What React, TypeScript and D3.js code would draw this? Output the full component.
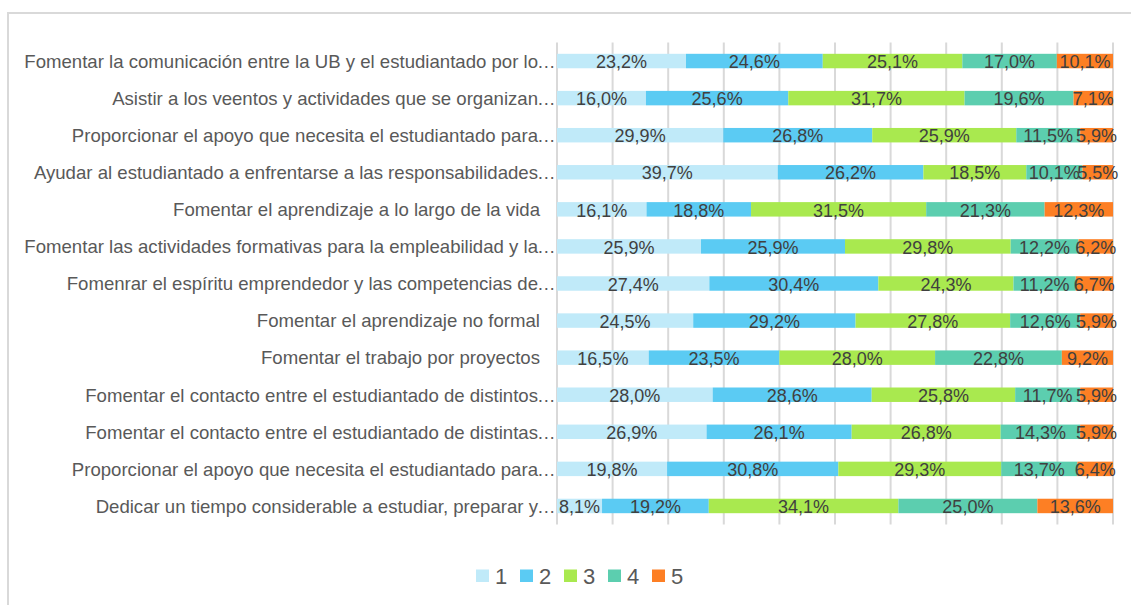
import React from "react";
import * as d3 from "d3";

const categories = [
  "Fomentar la comunicación entre la UB y el estudiantado por lo…",
  "Asistir a los veentos y actividades que se organizan…",
  "Proporcionar el apoyo que necesita el estudiantado para…",
  "Ayudar al estudiantado a enfrentarse a las responsabilidades…",
  "Fomentar el aprendizaje a lo largo de la vida ",
  "Fomentar las actividades formativas para la empleabilidad y la…",
  "Fomenrar el espíritu emprendedor y las competencias de…",
  "Fomentar el aprendizaje no formal ",
  "Fomentar el trabajo por proyectos ",
  "Fomentar el contacto entre el estudiantado de distintos…",
  "Fomentar el contacto entre el estudiantado de distintas…",
  "Proporcionar el apoyo que necesita el estudiantado para…",
  "Dedicar un tiempo considerable a estudiar, preparar y…",
];

const seriesNames = ["1", "2", "3", "4", "5"];

const s1 = [23.2, 16.0, 29.9, 39.7, 16.1, 25.9, 27.4, 24.5, 16.5, 28.0, 26.9, 19.8, 8.1];
const s2 = [24.6, 25.6, 26.8, 26.2, 18.8, 25.9, 30.4, 29.2, 23.5, 28.6, 26.1, 30.8, 19.2];
const s3 = [25.1, 31.7, 25.9, 18.5, 31.5, 29.8, 24.3, 27.8, 28.0, 25.8, 26.8, 29.3, 34.1];
const s4 = [17.0, 19.6, 11.5, 10.1, 21.3, 12.2, 11.2, 12.6, 22.8, 11.7, 14.3, 13.7, 25.0];
const s5 = [10.1, 7.1, 5.9, 5.5, 12.3, 6.2, 6.7, 5.9, 9.2, 5.9, 5.9, 6.4, 13.6];

const xTicks = [0, 10, 20, 30, 40, 50, 60, 70, 80, 90, 100];

const colors = ["#C0EAF9", "#5BCBF3", "#A9E94F", "#5CCEAF", "#FD7F24"];

const FONT = "'Liberation Sans', Arial, sans-serif";

export default function App() {
  const W = 1131;
  const H = 605;
  const x = d3.scaleLinear().domain([0, 100]).range([557, 1113]);
  const y = d3
    .scaleBand<string>()
    .domain(categories.map((_, i) => String(i)))
    .range([42.5, 524.5])
    .paddingInner(0.61)
    .paddingOuter(0.305);

  const table = categories.map((c, i) => ({
    cat: c,
    idx: i,
    v: [s1[i], s2[i], s3[i], s4[i], s5[i]],
  }));
  const stack = d3
    .stack<any>()
    .keys(seriesNames)
    .value((d, k) => d.v[seriesNames.indexOf(k)]);
  const layers = stack(table);

  const fmt = (v: number) => v.toFixed(1).replace(".", ",") + "%";

  const legendStart = 476;
  const legendStep = 44;

  return (
    <svg
      width={W}
      height={H}
      style={{ position: "absolute", left: 0, top: 0, background: "#fff" }}
      fontFamily={FONT}
    >
      <rect x={8} y={13} width={1150} height={620} fill="#fff" stroke="#D9D9D9" strokeWidth={2} />
      {xTicks.map((t) => (
        <line key={t} x1={x(t)} x2={x(t)} y1={42.5} y2={524.5} stroke="#D9D9D9" strokeWidth={2} />
      ))}
      {layers.map((layer, li) => (
        <g key={li}>
          {layer.map((d, i) => (
            <rect
              key={i}
              x={x(d[0])}
              width={x(d[1]) - x(d[0])}
              y={y(String(i))}
              height={y.bandwidth()}
              fill={colors[li]}
            />
          ))}
        </g>
      ))}
      {layers.map((layer, li) => (
        <g key={"l" + li}>
          {layer.map((d, i) => (
            <text
              key={i}
              x={(x(d[0]) + x(d[1])) / 2}
              y={(y(String(i)) as number) + y.bandwidth() / 2 + 7.2}
              textAnchor="middle"
              fontSize={18}
              fill="#404040"
            >
              {fmt(d[1] - d[0])}
            </text>
          ))}
        </g>
      ))}
      {categories.map((c, i) => {
        const cy = (y(String(i)) as number) + y.bandwidth() / 2 + 6.8;
        const hasEllipsis = c.endsWith("…");
        const main = hasEllipsis ? c.slice(0, -1) : c.replace(/ $/, "");
        return (
          <g key={"c" + i}>
            <text
              x={hasEllipsis ? 538 : 540}
              y={cy}
              textAnchor="end"
              fontSize={18.6}
              fill="#595959"
            >
              {main}
            </text>
            {hasEllipsis && (
              <text x={537} y={cy} fontSize={18.6} fill="#595959">
                …
              </text>
            )}
          </g>
        );
      })}
      {seriesNames.map((s, i) => (
        <g key={"lg" + i}>
          <rect x={legendStart + i * legendStep} y={569.5} width={13} height={12.5} fill={colors[i]} />
          <text
            x={legendStart + i * legendStep + 19}
            y={584}
            fontSize={22}
            fill="#595959"
          >
            {s}
          </text>
        </g>
      ))}
    </svg>
  );
}
